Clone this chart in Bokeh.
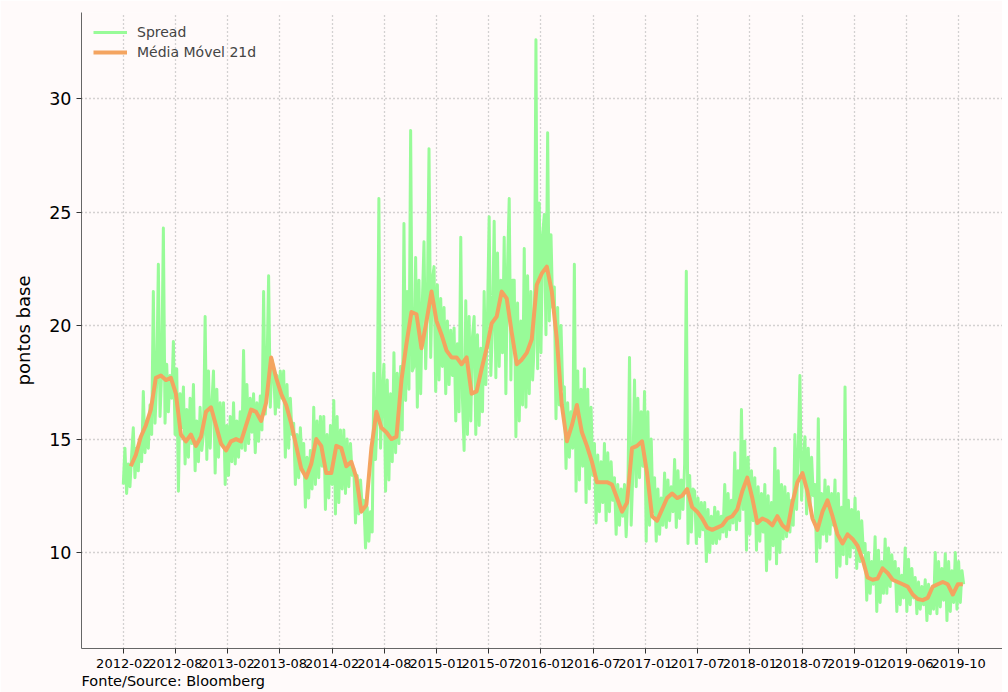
from bokeh.plotting import figure
from bokeh.models import Range1d, FixedTicker, Title, Legend, LegendItem
from bokeh.embed import file_html
from bokeh.resources import INLINE

# ---- data ----
tick_labels = ["2012-02", "2012-08", "2013-02", "2013-08", "2014-02", "2014-08",
               "2015-01", "2015-07", "2016-01", "2016-07", "2017-01", "2017-07",
               "2018-01", "2018-07", "2019-01", "2019-06", "2019-10"]
tick_step = 125      # observations between labelled ticks
spread_step = 4      # observations between stored spread samples
ma_start = 18        # first observation of the 21d moving average
ma_step = 12         # observations between stored moving-average samples

spread = [
    13.0, 14.6, 12.6, 13.9, 12.9, 14.3,   15.5, 13.3, 14.6, 13.6, 15.0, 14.0,
    17.1, 14.4, 15.8, 14.6, 16.5, 15.2,   21.5, 15.7, 17.5, 22.7, 16.0, 18.0,
    24.3, 15.7, 18.3, 16.2, 17.8, 16.8,   19.3, 15.2, 18.1, 12.7, 17.0, 15.5,
    17.3, 13.9, 16.3, 14.2, 16.8, 14.8,   17.4, 13.6, 15.8, 14.0, 16.4, 14.5,
    15.2, 20.4, 14.1, 18.0, 14.6, 16.5,   18.0, 13.5, 17.2, 14.2, 16.6, 14.8,
    16.6, 13.0, 15.6, 13.4, 16.0, 14.0,   16.6, 13.9, 15.8, 14.2, 16.2, 14.6,
    18.9, 14.5, 17.4, 14.8, 16.8, 15.3,   17.0, 14.4, 16.6, 14.9, 16.9, 15.4,
    21.5, 16.1, 18.0, 22.2, 16.4, 18.5,   18.1, 16.1, 17.8, 16.4, 18.0, 16.8,
    18.0, 14.2, 17.4, 14.6, 16.8, 15.2,   15.7, 13.0, 15.2, 13.3, 15.5, 13.8,
    14.8, 12.0, 14.2, 12.4, 14.5, 12.8,   16.4, 13.0, 15.8, 13.3, 16.0, 13.8,
    16.0, 11.9, 15.2, 12.4, 15.6, 13.0,   16.7, 11.7, 16.0, 12.2, 15.4, 12.8,
    15.4, 12.6, 15.0, 12.9, 14.8, 13.4,   13.7, 11.3, 13.4, 11.7, 13.2, 12.0,
    12.3, 10.2, 12.0, 10.5, 11.8, 10.9,   17.9, 14.1, 16.0, 25.6, 14.6, 16.8,
    18.3, 12.7, 17.6, 13.2, 17.0, 14.0,   18.8, 14.4, 17.9, 14.8, 18.2, 15.4,
    24.5, 16.7, 21.5, 17.2, 28.6, 18.0,   18.2, 23.0, 16.4, 22.0, 17.0, 21.0,
    23.7, 18.1, 21.0, 27.8, 18.6, 22.0,   22.6, 17.1, 21.8, 17.6, 21.2, 18.2,
    20.8, 17.0, 20.2, 17.4, 19.8, 17.8,   19.9, 15.8, 19.2, 16.2, 23.9, 16.8,
    14.5, 21.1, 15.2, 20.4, 15.8, 19.5,   20.4, 15.2, 19.6, 15.6, 19.0, 16.2,
    21.5, 17.4, 20.5, 24.8, 17.8, 20.0,   24.6, 17.7, 23.2, 18.2, 22.0, 18.8,
    23.9, 17.0, 22.6, 25.6, 17.6, 22.0,   22.0, 15.1, 21.0, 15.8, 20.2, 16.5,
    23.4, 16.4, 22.2, 17.0, 21.5, 17.6,   19.2, 32.6, 18.1, 25.4, 18.8, 24.0,
    24.9, 19.6, 28.5, 20.2, 24.0, 20.8,   21.7, 15.9, 20.8, 16.5, 20.0, 17.2,
    17.3, 13.7, 16.6, 14.2, 16.2, 14.6,   22.7, 12.7, 18.0, 13.2, 17.2, 13.8,
    18.1, 12.2, 17.2, 12.8, 16.4, 13.4,   14.8, 11.3, 14.3, 11.8, 14.0, 12.2,
    14.8, 11.4, 14.4, 11.8, 14.0, 12.3,   13.3, 10.8, 13.0, 11.2, 12.8, 11.6,
    13.0, 10.7, 12.5, 18.6, 11.2, 13.5,   17.6, 12.9, 16.8, 13.3, 16.2, 13.8,
    17.1, 10.5, 16.2, 11.2, 15.0, 11.8,   13.3, 10.5, 12.8, 10.8, 12.4, 11.2,
    13.5, 11.1, 13.2, 11.4, 12.9, 11.8,   14.1, 11.1, 13.6, 11.5, 13.2, 11.9,
    13.9, 22.4, 10.4, 13.4, 10.9, 12.8,   12.7, 10.4, 12.4, 10.7, 12.2, 11.0,
    12.2, 9.6, 11.9, 10.0, 11.6, 10.4,    12.0, 10.4, 11.8, 10.6, 11.6, 10.9,
    13.0, 10.7, 12.6, 11.0, 12.3, 11.3,   14.4, 11.0, 13.6, 11.4, 16.3, 11.9,
    14.9, 10.1, 14.2, 10.8, 13.6, 11.4,   13.3, 10.1, 12.9, 10.5, 12.6, 10.9,
    13.0, 9.2, 12.5, 9.7, 12.2, 10.3,     14.6, 9.5, 13.6, 10.0, 13.0, 10.6,
    12.9, 10.7, 12.6, 10.9, 12.3, 11.2,   15.2, 11.9, 14.6, 17.8, 12.3, 14.0,
    15.1, 11.7, 14.6, 12.1, 14.2, 12.5,   13.0, 9.6, 15.9, 10.2, 12.6, 10.8,
    13.2, 10.5, 12.9, 10.8, 12.6, 11.2,   13.2, 8.9, 12.6, 9.4, 12.0, 9.9,
    17.3, 9.5, 12.3, 9.8, 11.9, 10.2,     12.4, 9.3, 11.8, 9.6, 11.4, 10.0,
    10.4, 7.9, 10.0, 8.2, 9.6, 8.6,       10.7, 7.4, 10.1, 7.8, 9.6, 8.2,
    10.6, 8.2, 10.2, 8.5, 9.9, 8.8,       9.6, 7.4, 9.3, 7.7, 9.0, 8.0,
    10.2, 7.4, 9.7, 7.7, 9.3, 8.0,        8.9, 7.3, 8.7, 7.5, 8.5, 7.7,
    8.8, 7.0, 8.6, 7.3, 8.4, 7.5,         10.0, 7.3, 9.6, 7.6, 9.3, 7.9,
    9.95, 7.0, 9.6, 7.4, 9.2, 7.8,        10.0, 7.5, 9.6, 7.8, 9.2, 8.6,
]

ma21 = [
    13.8, 14.3, 15.1, 15.6, 16.3, 17.7, 17.8, 17.6, 17.7, 17.0,
    15.2, 14.9, 15.2, 14.7, 15.1, 16.2, 16.4, 15.6, 14.8, 14.5,
    14.9, 15.0, 14.9, 15.6, 16.3, 16.2, 15.8, 16.6, 18.6, 17.7,
    17.0, 16.5, 15.7, 14.7, 13.7, 13.3, 13.9, 15.0, 14.7, 13.5,
    13.5, 14.7, 14.6, 13.8, 14.0, 13.3, 11.8, 12.1, 14.6, 16.2,
    15.5, 15.3, 15.0, 15.1, 17.6, 19.2, 20.6, 20.5, 19.0, 20.2,
    21.5, 20.2, 19.6, 18.9, 18.6, 18.6, 18.3, 18.6, 17.0, 17.1,
    18.1, 19.0, 20.1, 20.4, 21.5, 21.2, 19.7, 18.3, 18.5, 18.8,
    19.4, 21.8, 22.3, 22.6, 21.5, 19.4, 16.5, 14.9, 15.6, 16.5,
    15.3, 14.7, 14.0, 13.1, 13.1, 13.1, 13.0, 12.4, 11.8, 12.2,
    14.6, 14.7, 14.9, 13.5, 11.6, 11.4, 11.9, 12.4, 12.6, 12.4,
    12.5, 12.8, 12.0, 11.8, 11.5, 11.1, 11.0, 11.1, 11.2, 11.5,
    11.6, 11.9, 12.7, 13.3, 12.4, 11.3, 11.5, 11.4, 11.2, 11.6,
    11.2, 11.0, 12.2, 13.1, 13.5, 12.7, 11.5, 11.0, 11.8, 12.3,
    11.6, 10.8, 10.4, 10.8, 10.6, 10.3, 9.7, 8.9, 8.8, 8.85,
    9.3, 9.1, 8.8, 8.7, 8.6, 8.5, 8.15, 7.95, 7.9, 8.0,
    8.5, 8.6, 8.7, 8.6, 8.15, 8.6, 8.6,
]

spread_x = [i * spread_step for i in range(len(spread))]
ma_x = [ma_start + i * ma_step for i in range(len(ma21))]
tick_pos = [i * tick_step for i in range(len(tick_labels))]

FONT = "DejaVu Sans"
BG = "#fffafa"

p = figure(width=1002, height=692, output_backend="svg", toolbar_location=None,
           x_range=Range1d(-100, 2105), y_range=Range1d(5.77, 33.8),
           background_fill_color=BG, border_fill_color=BG,
           min_border_left=81, min_border_right=0, min_border_top=12,
           min_border_bottom=44)
p.outline_line_color = None

r1 = p.line(spread_x, spread, line_color="#98fb98", line_width=3, line_join="round")
r2 = p.line(ma_x, ma21, line_color="#f4a460", line_width=4, line_join="round")

# axes
p.xaxis.ticker = FixedTicker(ticks=tick_pos)
p.xaxis.major_label_overrides = {t: l for t, l in zip(tick_pos, tick_labels)}
p.yaxis.ticker = FixedTicker(ticks=[10, 15, 20, 25, 30])
for ax in (p.xaxis, p.yaxis):
    ax.minor_tick_line_color = None
    ax.major_tick_in = 0
    ax.major_tick_out = 5
    ax.axis_line_color = "#666666"
    ax.major_tick_line_color = "#333333"
    ax.major_label_text_font = FONT
    ax.major_label_text_color = "#000000"
    ax.major_label_standoff = 5
p.xaxis.major_label_text_font_size = "13px"
p.yaxis.major_label_text_font_size = "17.5px"
p.yaxis.axis_label = "pontos base"
p.yaxis.axis_label_text_font = FONT
p.yaxis.axis_label_text_font_size = "18px"
p.yaxis.axis_label_text_font_style = "normal"
p.yaxis.axis_label_text_color = "#000000"
p.yaxis.axis_label_standoff = 12

# grid (dotted)
for g in (p.xgrid, p.ygrid):
    g.grid_line_color = "#a8a8a8"
    g.grid_line_dash = "1 3"
    g.grid_line_width = 1.3

legend = Legend(items=[LegendItem(label="Spread", renderers=[r1]),
                       LegendItem(label="Média Móvel 21d", renderers=[r2])],
                location="top_left", background_fill_alpha=0, border_line_alpha=0,
                label_text_font=FONT, label_text_font_size="14px",
                glyph_width=34, glyph_height=16, label_height=16, spacing=4,
                margin=4, padding=8, label_standoff=10)
p.add_layout(legend)

src = Title(text="Fonte/Source: Bloomberg", align="left", text_font=FONT,
            text_font_size="14.5px", text_font_style="normal", text_color="#000000",
            standoff=0, offset=0)
p.add_layout(src, "below")

open("out.html", "w").write(file_html(p, INLINE))
